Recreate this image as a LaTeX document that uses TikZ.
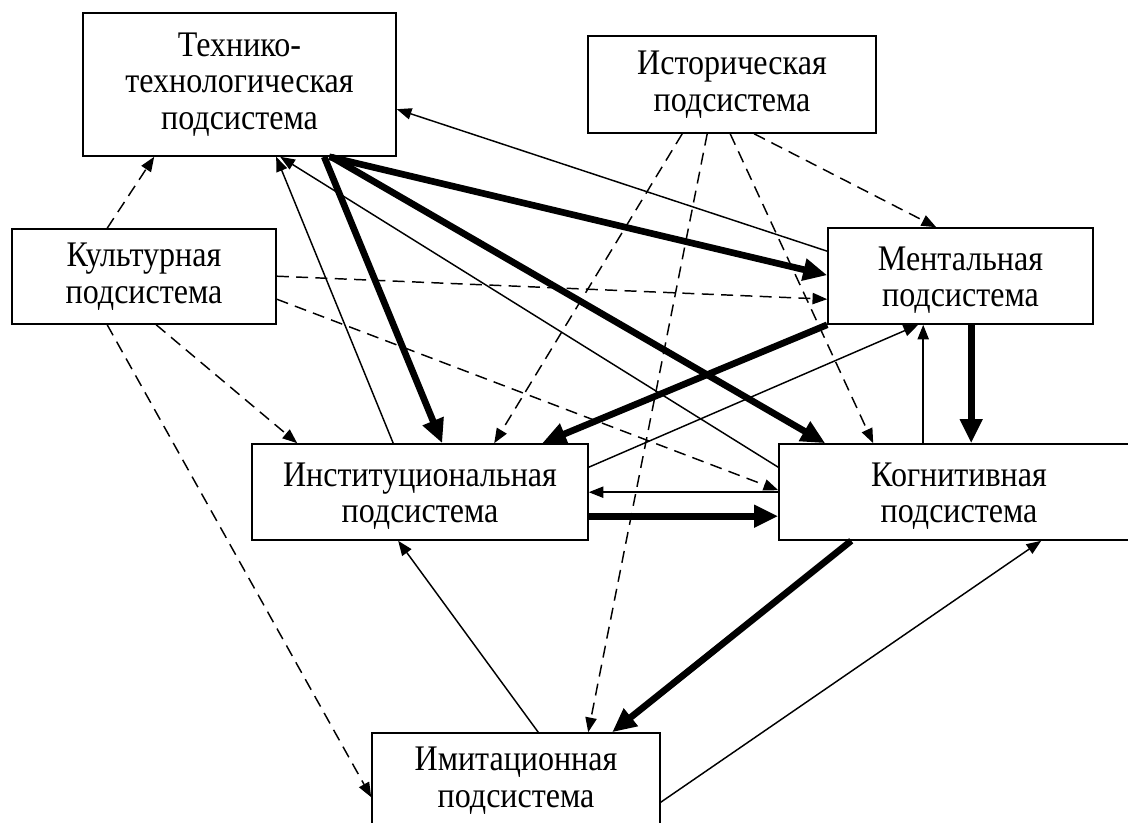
\documentclass[tikz,border=0pt]{standalone}
\usepackage{fontspec}
\setmainfont{Liberation Serif}[FakeStretch=0.89]
\usetikzlibrary{arrows.meta,calc}
\newcommand{\mydownstrut}{\rule{0pt}{24pt}}
\begin{document}
\begin{tikzpicture}[x=0.75pt,y=-0.75pt,
  box/.style={draw,line width=1.2pt,fill=white,inner sep=0pt,align=center,
    font=\fontsize{27}{27.5}\selectfont},
  thinarr/.style={line width=1.1pt,-{Triangle[length=11pt,width=8.5pt]}},
  dasharr/.style={line width=1.1pt,dash pattern=on 9pt off 5.5pt,-{Triangle[length=11pt,width=8.5pt]}},
  thickarr/.style={line width=5pt,-{Triangle[length=18pt,width=16pt]}}]
\useasboundingbox (0,0) rectangle (1128,823);
\clip (0,0) rectangle (1128,823);
\fill[white] (0,0) rectangle (1128,823);

% boxes
\node[box,minimum width=234.75pt,minimum height=107.25pt] (tech) at (239.5,84.5) {Технико-\\технологическая\\подсистема};
\node[box,minimum width=216pt,minimum height=72.75pt] (hist) at (732,84.5) {Историческая\\подсистема};
\node[box,minimum width=198pt,minimum height=71.25pt] (cult) at (144,276.5) {Культурная\\подсистема};
\node[box,minimum width=198.75pt,minimum height=72pt] (ment) at (960.5,276) {\mydownstrut Ментальная\\подсистема};
\node[box,minimum width=252pt,minimum height=72pt] (inst) at (420,492) {\mydownstrut Институциональная\\подсистема};
\node[box,minimum width=270pt,minimum height=72pt] (cogn) at (959,492) {\mydownstrut Когнитивная\\подсистема};
\node[box,minimum width=216pt,minimum height=72pt] (imit) at (516,781) {Имитационная\\подсистема};

% Культурная
\draw[dasharr] ($(cult.north west)+(96,0)$) -- ($(tech.south west)+(72,0)$);
\draw[dasharr] ($(cult.north east)+(0,48)$) -- ($(ment.north west)+(0,72)$);
\draw[dasharr] ($(cult.north east)+(0,71)$) -- ($(cogn.north west)+(0,47)$);
\draw[dasharr] ($(cult.south west)+(145,0)$) -- ($(inst.north west)+(46,0)$);
\draw[dasharr] ($(cult.south west)+(96,0)$) -- ($(imit.north west)+(0,65)$);

% Историческая
\draw[dasharr] ($(hist.south west)+(95,0)$) -- ($(inst.north west)+(243,0)$);
\draw[dasharr] ($(hist.south west)+(120,0)$) -- ($(imit.north west)+(217,0)$);
\draw[dasharr] ($(hist.south west)+(143,0)$) -- ($(cogn.north west)+(95,0)$);
\draw[dasharr] ($(hist.south west)+(167,0)$) -- ($(ment.north west)+(109,0)$);

% Технико-технологическая
\draw[thickarr] ($(tech.south west)+(247,0)$) -- ($(ment.north west)+(0,48)$);
\draw[thickarr] ($(tech.south west)+(242,0)$) -- ($(inst.north west)+(191,0)$);
\draw[thickarr] ($(tech.south west)+(249,0)$) -- ($(cogn.north west)+(47,0)$);
\draw[thinarr] ($(inst.north west)+(142,0)$) -- ($(tech.south west)+(194,0)$);
\draw[thinarr] ($(cogn.north west)+(0,24)$) -- ($(tech.south west)+(198,0)$);
\draw[thinarr] ($(ment.north west)+(0,24)$) -- ($(tech.north east)+(0,97)$);

% Ментальная
\draw[thickarr] (ment.south west) -- ($(inst.north west)+(291,0)$);
\draw[thinarr] ($(inst.north east)+(0,24)$) -- ($(ment.south west)+(91,0)$);
\draw[thinarr] ($(cogn.north west)+(145,0)$) -- ($(ment.south west)+(96,0)$);
\draw[thickarr] ($(ment.south west)+(144,0)$) -- ($(cogn.north west)+(193,0)$);

% Институциональная / Когнитивная
\draw[thinarr] ($(cogn.north west)+(0,49)$) -- ($(inst.north east)+(0,49)$);
\draw[thickarr] ($(inst.north east)+(0,73)$) -- ($(cogn.north west)+(0,73)$);

% Имитационная
\draw[thinarr] ($(imit.north west)+(167,0)$) -- ($(inst.south west)+(147,0)$);
\draw[thickarr] ($(cogn.south west)+(73,0)$) -- ($(imit.north west)+(241,0)$);
\draw[thinarr] ($(imit.north east)+(0,70)$) -- ($(cogn.south west)+(263,0)$);
\end{tikzpicture}
\end{document}
